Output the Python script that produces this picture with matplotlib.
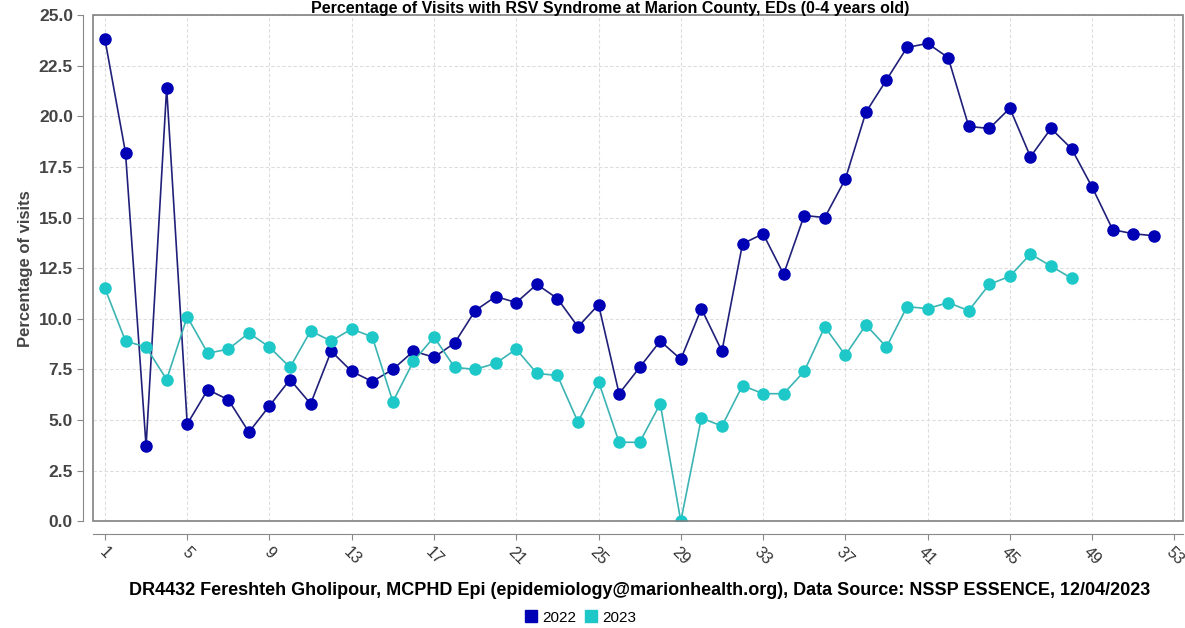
import matplotlib.pyplot as plt
from matplotlib.patches import Rectangle

# weekly percentage of visits
weeks_2022 = list(range(1, 53))
pct_2022 = [23.8, 18.2, 3.7, 21.4, 4.8, 6.5, 6.0, 4.4, 5.7, 7.0,
            5.8, 8.4, 7.4, 6.9, 7.5, 8.4, 8.1, 8.8, 10.4, 11.1,
            10.8, 11.7, 11.0, 9.6, 10.7, 6.3, 7.6, 8.9, 8.0, 10.5,
            8.4, 13.7, 14.2, 12.2, 15.1, 15.0, 16.9, 20.2, 21.8, 23.4,
            23.6, 22.9, 19.5, 19.4, 20.4, 18.0, 19.4, 18.4, 16.5, 14.4,
            14.2, 14.1]

weeks_2023 = list(range(1, 49))
pct_2023 = [11.5, 8.9, 8.6, 7.0, 10.1, 8.3, 8.5, 9.3, 8.6, 7.6,
            9.4, 8.9, 9.5, 9.1, 5.9, 7.9, 9.1, 7.6, 7.5, 7.8,
            8.5, 7.3, 7.2, 4.9, 6.9, 3.9, 3.9, 5.8, 0.0, 5.1,
            4.7, 6.7, 6.3, 6.3, 7.4, 9.6, 8.2, 9.7, 8.6, 10.6,
            10.5, 10.8, 10.4, 11.7, 12.1, 13.2, 12.6, 12.0]

x_ticks = list(range(1, 54, 4))
y_ticks = [0.0, 2.5, 5.0, 7.5, 10.0, 12.5, 15.0, 17.5, 20.0, 22.5, 25.0]

plt.rcParams['font.family'] = ['Liberation Sans', 'DejaVu Sans']

fig = plt.figure(figsize=(11.85, 6.28), dpi=100)
ax = fig.add_axes([0.0785, 0.170, 0.9195, 0.806])

ax.plot(weeks_2022, pct_2022, color='#20207a', lw=1.2, marker='o', ms=8,
        mfc='#0000b4', mec='#0000b4', label='2022', zorder=3)
ax.plot(weeks_2023, pct_2023, color='#3cb4b4', lw=1.2, marker='o', ms=8,
        mfc='#1ec8c8', mec='#1ec8c8', label='2023', zorder=3)

ax.set_xlim(0.42, 53.4)
ax.set_ylim(0, 25)
ax.set_xticks(x_ticks)
ax.set_yticks(y_ticks)
ax.set_yticklabels([f'{v:.1f}' for v in y_ticks])
ax.grid(True, color='#dddddd', lw=0.8, ls=(0, (3, 2)))

for s in ['top', 'right']:
    ax.spines[s].set_visible(False)
ax.spines['left'].set_position(('outward', 7))
ax.spines['bottom'].set_position(('outward', 9))
ax.spines['left'].set_color('#888888')
ax.spines['bottom'].set_color('#888888')
ax.add_patch(Rectangle((0, 0), 1, 1, transform=ax.transAxes, fill=False,
                       ec='#808080', lw=1.2, clip_on=False, zorder=4))

ax.tick_params(axis='both', colors='#888888', length=4)
ax.tick_params(axis='y', labelcolor='#444444', labelsize=12.5)
ax.tick_params(axis='x', labelcolor='#333333', labelsize=11.5)
for lbl in ax.get_yticklabels():
    lbl.set_fontweight('bold')
for lbl in ax.get_xticklabels():
    lbl.set_rotation(-45)
    lbl.set_ha('center')

ax.set_ylabel('Percentage of visits', fontsize=12, fontweight='bold',
              color='#444444', labelpad=4)

fig.text(0.515, 0.999, 'Percentage of Visits with RSV Syndrome at Marion County, EDs (0-4 years old)',
         ha='center', va='top', fontsize=11.5, fontweight='bold')

fig.text(0.540, 0.060,
         'DR4432 Fereshteh Gholipour, MCPHD Epi (epidemiology@marionhealth.org), Data Source: NSSP ESSENCE, 12/04/2023',
         ha='center', va='center', fontsize=13, fontweight='bold')

fig.legend(handles=ax.get_lines(), loc='center', bbox_to_anchor=(0.49, 0.016),
           ncol=2, frameon=False, fontsize=11, handlelength=0.8, handleheight=0.8,
           handletextpad=0.3, columnspacing=0.6, borderaxespad=0)

# legend shown as filled squares
leg = fig.legends[0]
for h in leg.legend_handles:
    h.set_linestyle('none')
    h.set_marker('s')
    h.set_markersize(9)

fig.savefig('out.png', dpi=100)
